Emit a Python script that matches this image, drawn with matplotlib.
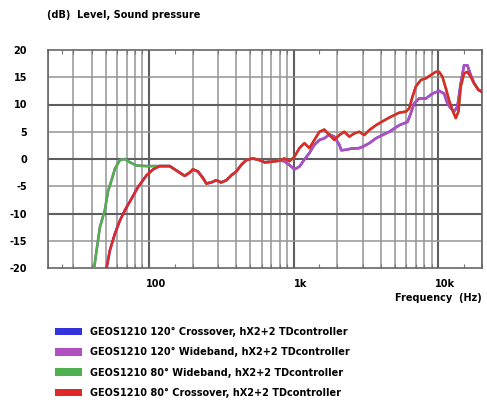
import matplotlib.pyplot as plt
import matplotlib.transforms as mtransforms
from matplotlib.patches import Patch
import numpy as np

# Low-frequency part, crossover setting (blue / red)
freq_lo_xover = [46, 50.8, 53.5, 58, 62.8, 68, 75.5, 84, 96, 106.5]
db_lo_xover = [-24, -20, -16.8, -13.7, -11.3, -9.4, -7.3, -5.1, -3.0, -1.9]

# Low-frequency part, wideband setting (purple / green)
freq_lo_wide = [39, 41.7, 43.3, 45.7, 49.4, 52.1, 55, 58, 62.8, 68, 73.6, 81.8, 95.9, 106.5]
db_lo_wide = [-24, -20, -16.8, -12.5, -9.4, -5.8, -3.9, -1.8, -0.2, 0.0, -0.6, -1.2, -1.3, -1.3]

# Shared mid range
freq_mid = [118.4, 138.8, 150.2, 162.6, 176.1, 190.6, 200.9, 217.6, 235.6, 248.5,
            269, 291, 315, 342, 370, 400, 433, 469, 521, 580, 628, 698, 796]
db_mid = [-1.3, -1.3, -1.9, -2.5, -3.1, -2.5, -1.9, -2.3, -3.5, -4.5,
          -4.3, -3.9, -4.3, -3.9, -3.0, -2.3, -1.1, -0.2, 0.1, -0.2, -0.6, -0.5, -0.3]

# High-frequency part, 80 deg horn (red / green)
freq_hf80 = [861, 933, 1010, 1094, 1184, 1282, 1388, 1503, 1626, 1762, 1907, 2065,
             2235, 2421, 2619, 2837, 3070, 3326, 3698, 4103, 4572, 5357, 5957, 6280,
             6610, 6980, 7555, 8184, 8858, 9594, 10100, 10650, 11240, 11830, 12480,
             13180, 13740, 14260, 15030, 15850, 16720, 17620, 18880, 20000]
db_hf80 = [0.1, -0.4, 0.4, 2.0, 2.9, 2.0, 3.5, 5.0, 5.4, 4.4, 3.5, 4.4,
           5.0, 4.1, 4.7, 5.0, 4.4, 5.3, 6.2, 6.9, 7.6, 8.5, 8.7, 9.3,
           11.4, 13.3, 14.5, 14.8, 15.4, 16.0, 16.0, 15.1, 13.0, 10.8, 9.0,
           7.5, 8.7, 13.3, 15.7, 16.0, 15.1, 13.9, 12.7, 12.3]

# High-frequency part, 120 deg horn (blue / purple)
freq_hf120 = [861, 933, 1010, 1094, 1184, 1282, 1388, 1503, 1626, 1762, 1907, 2065,
              2130, 2300, 2490, 2837, 3070, 3326, 3698, 4103, 4572, 5357, 6110, 6443,
              6792, 7360, 8184, 9084, 10100, 10940, 11530, 12160, 12820, 13520, 14260,
              15030, 15850, 16720, 17620, 18880, 20000]
db_hf120 = [-0.4, -1.1, -1.9, -1.4, -0.1, 1.1, 2.6, 3.5, 3.8, 4.5, 4.1, 2.6,
            1.6, 1.7, 1.9, 2.0, 2.4, 2.9, 3.8, 4.4, 5.0, 6.2, 6.8, 8.4,
            10.2, 11.1, 11.1, 12.0, 12.5, 12.0, 10.2, 9.3, 8.7, 9.6, 13.9,
            17.2, 17.2, 15.4, 13.9, 12.7, 12.3]

labels = ["GEOS1210 120° Crossover, hX2+2 TDcontroller",
          "GEOS1210 120° Wideband, hX2+2 TDcontroller",
          "GEOS1210 80° Wideband, hX2+2 TDcontroller",
          "GEOS1210 80° Crossover, hX2+2 TDcontroller"]
colors = ["#3333dd", "#b050c0", "#4fb04f", "#e02828"]

series = [
    (freq_lo_xover + freq_mid + freq_hf120, db_lo_xover + db_mid + db_hf120),
    (freq_lo_wide + freq_mid + freq_hf120, db_lo_wide + db_mid + db_hf120),
    (freq_lo_wide + freq_mid + freq_hf80, db_lo_wide + db_mid + db_hf80),
    (freq_lo_xover + freq_mid + freq_hf80, db_lo_xover + db_mid + db_hf80),
]

plt.rcParams['font.family'] = ['DejaVu Sans']
fs = 7

fig = plt.figure(figsize=(4.87, 4.03), dpi=100)
ax = fig.add_axes([48 / 487, 135 / 403, 434 / 487, 218 / 403])

for (f, d), c in zip(series, colors):
    ax.plot(f, d, color=c, lw=1.8, zorder=3)

ax.set_xscale('log')
ax.set_xlim(20, 20000)
ax.set_ylim(-20, 20)

# grid
minor_x = [v * m for m in (10, 100, 1000, 10000) for v in range(2, 10) if 20 <= v * m <= 20000]
for x in minor_x:
    ax.axvline(x, color='#959595', lw=1.1, zorder=1)
for x in (100, 1000, 10000):
    ax.axvline(x, color='#5e5e5e', lw=1.5, zorder=1)
for y in range(-15, 20, 5):
    major = y % 10 == 0
    ax.axhline(y, color='#5e5e5e' if major else '#959595', lw=1.5 if major else 1.1, zorder=1)

for s in ax.spines.values():
    s.set_color('#666666')
    s.set_linewidth(1.2)

ax.set_yticks(range(-20, 21, 5))
ax.set_yticklabels([str(v) for v in range(-20, 21, 5)], fontsize=fs, fontweight='bold')
ax.set_xticks([100, 1000, 10000])
ax.set_xticklabels(['100', '1k', '10k'], fontsize=fs, fontweight='bold')
ax.xaxis.set_minor_locator(plt.FixedLocator([25, 150, 1500, 15000] + minor_x))
ax.xaxis.set_minor_formatter(plt.NullFormatter())
ax.tick_params(axis='y', length=0, pad=15)
ax.tick_params(axis='x', which='major', length=0, pad=8)
ax.tick_params(axis='x', which='minor', direction='in', length=3, width=0.8,
               color='#777777', top=True, bottom=True)

offset = mtransforms.ScaledTranslation(7 / 100, 0, fig.dpi_scale_trans)
for lbl in ax.get_xticklabels():
    lbl.set_transform(lbl.get_transform() + offset)

fig.text(47 / 487, 1 - 15 / 403, "(dB)  Level, Sound pressure", fontsize=fs,
         fontweight='bold', ha='left', va='center')
fig.text(482 / 487, 1 - 298 / 403, "Frequency  (Hz)", fontsize=fs,
         fontweight='bold', ha='right', va='center')

handles = [Patch(facecolor=c, edgecolor='none') for c in colors]
fig.legend(handles, labels, loc='upper left', bbox_to_anchor=(50 / 487, 1 - 322 / 403),
           frameon=False, prop={'size': fs, 'weight': 'bold'}, handlelength=2.8,
           handleheight=0.85, labelspacing=1.05, handletextpad=0.85, borderpad=0)

fig.savefig('out.png', dpi=100)
